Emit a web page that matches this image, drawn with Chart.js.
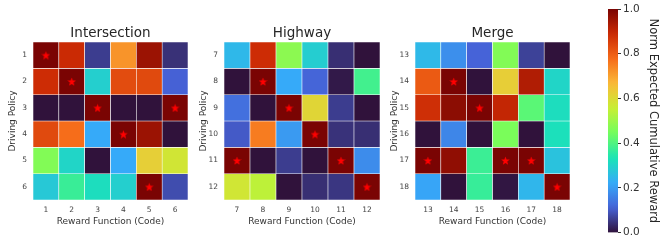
<!DOCTYPE html>
<html>
<head>
<meta charset="utf-8">
<script src="https://cdn.jsdelivr.net/npm/chart.js@4.4.1/dist/chart.umd.min.js"></script>
<style>
    html, body { margin: 0; padding: 0; background: #fff; }
    #wrap { position: relative; width: 660px; height: 241px; overflow: hidden; }
    .box { position: absolute; top: 0; }
</style>
</head>
<body>
<div id="wrap">
    <div class="box" style="left:0px"><canvas id="intersection" width="193" height="241"></canvas></div>
    <div class="box" style="left:191px"><canvas id="highway" width="194" height="241"></canvas></div>
    <div class="box" style="left:382px"><canvas id="merge" width="193" height="241"></canvas></div>
    <div class="box" style="left:598px"><canvas id="colorbar" width="62" height="241"></canvas></div>
</div>
<script>
// reward function codes (columns) and driving policies (rows)
const intersectionRewards = ['1', '2', '3', '4', '5', '6'];
const intersectionPolicies = ['1', '2', '3', '4', '5', '6'];
const intersectionValues = [
    [1.0, 0.89, 0.06, 0.72, 0.955, 0.043],
    [0.885, 1.0, 0.293, 0.83, 0.835, 0.11],
    [0.0, 0.0, 1.0, 0.0, 0.0, 1.0],
    [0.835, 0.775, 0.222, 1.0, 0.955, 0.0],
    [0.465, 0.305, 0.0, 0.222, 0.623, 0.576],
    [0.28, 0.372, 0.32, 0.293, 1.0, 0.082]
];

const highwayRewards = ['7', '8', '9', '10', '11', '12'];
const highwayPolicies = ['7', '8', '9', '10', '11', '12'];
const highwayValues = [
    [0.249, 0.885, 0.478, 0.29, 0.04, 0.0],
    [0.0, 1.0, 0.222, 0.115, 0.01, 0.384],
    [0.133, 0.0, 1.0, 0.61, 0.06, 0.0],
    [0.1, 0.754, 0.197, 1.0, 0.045, 0.04],
    [1.0, 0.0, 0.06, 0.0, 1.0, 0.176],
    [0.575, 0.543, 0.0, 0.04, 0.05, 1.0]
];

const mergeRewards = ['13', '14', '15', '16', '17', '18'];
const mergePolicies = ['13', '14', '15', '16', '17', '18'];
const mergeValues = [
    [0.25, 0.18, 0.113, 0.466, 0.066, 0.0],
    [0.807, 1.0, 0.0, 0.625, 0.926, 0.305],
    [0.88, 0.975, 1.0, 0.9, 0.414, 0.32],
    [0.0, 0.167, 0.0, 0.455, 0.0, 0.325],
    [1.0, 0.97, 0.375, 1.0, 1.0, 0.268],
    [0.215, 0.0, 0.37, 0.005, 0.245, 1.0]
];

const colorbarTicks = [0.0, 0.2, 0.4, 0.6, 0.8, 1.0];

const FONT = 'DejaVu Sans';
Chart.defaults.font.family = FONT;

// turbo colormap, sampled stops
const turboStops = [
    [48, 18, 59], [70, 98, 215], [54, 170, 249], [26, 228, 182], [114, 254, 94],
    [199, 239, 52], [250, 186, 57], [246, 107, 25], [203, 42, 4], [122, 4, 3]
];
function turbo(v) {
    const t = Math.min(1, Math.max(0, v)) * (turboStops.length - 1);
    const i = Math.min(turboStops.length - 2, Math.floor(t));
    const f = t - i;
    const a = turboStops[i], b = turboStops[i + 1];
    const c = a.map((x, k) => Math.round(x + (b[k] - x) * f));
    return 'rgb(' + c.join(',') + ')';
}

function makeStar(size, color) {
    const c = document.createElement('canvas');
    c.width = c.height = size;
    const g = c.getContext('2d');
    const cx = size / 2, R = size / 2, r = R * 0.42;
    g.beginPath();
    for (let i = 0; i < 10; i++) {
        const a = -Math.PI / 2 + i * Math.PI / 5;
        const rad = i % 2 ? r : R;
        g.lineTo(cx + rad * Math.cos(a), cx + 0.5 + rad * Math.sin(a));
    }
    g.closePath();
    g.fillStyle = color;
    g.fill();
    return c;
}
const starImg = makeStar(9, '#ff0000');

function heatmap(id, title, rewards, policies, values) {
    const datasets = values.map((row, r) => ({
        type: 'bar',
        data: row.map(() => [r, r + 1]),
        backgroundColor: row.map(v => turbo(v)),
        borderColor: '#ffffff',
        borderWidth: 0.6,
        borderSkipped: false,
        grouped: false,
        barPercentage: 1,
        categoryPercentage: 1
    }));
    // best cells get a star
    const stars = [];
    values.forEach((row, r) => row.forEach((v, c) => {
        if (v === 1) stars.push({ x: rewards[c], y: r + 0.5 });
    }));
    datasets.push({
        type: 'line',
        data: stars,
        showLine: false,
        pointStyle: starImg,
        order: -1
    });

    new Chart(document.getElementById(id), {
        type: 'bar',
        data: { labels: rewards, datasets: datasets },
        options: {
            responsive: false,
            animation: false,
            events: [],
            layout: { padding: { left: 0, right: 2, top: 0, bottom: 0 } },
            plugins: {
                legend: { display: false },
                tooltip: { enabled: false },
                title: {
                    display: true,
                    text: title,
                    fullSize: false,
                    color: '#262626',
                    font: { family: FONT, size: 13.5, weight: 'normal' },
                    padding: { top: 25, bottom: 0.8 }
                }
            },
            scales: {
                x: {
                    type: 'category',
                    offset: true,
                    grid: { display: false, drawTicks: false },
                    border: { display: false },
                    ticks: { padding: 6, color: '#444', maxRotation: 0, font: { family: FONT, size: 7.5 } },
                    title: {
                        display: true,
                        text: 'Reward Function (Code)',
                        color: '#333',
                        font: { family: FONT, size: 9 },
                        padding: { top: 0, bottom: 14 }
                    },
                    afterFit: s => { s.height = 41; }
                },
                y: {
                    type: 'linear',
                    min: 0,
                    max: 6,
                    reverse: true,
                    afterBuildTicks: s => { s.ticks = policies.map((p, i) => ({ value: i + 0.5 })); },
                    grid: { display: false, drawTicks: false },
                    border: { display: false },
                    ticks: {
                        padding: 6,
                        color: '#444',
                        font: { family: FONT, size: 7.5 },
                        callback: (v, i) => policies[i]
                    },
                    title: {
                        display: true,
                        text: 'Driving Policy',
                        color: '#333',
                        font: { family: FONT, size: 9 },
                        padding: { top: 7.5, bottom: 0 }
                    },
                    afterFit: s => { s.width = 33; }
                }
            }
        }
    });
}

heatmap('intersection', 'Intersection', intersectionRewards, intersectionPolicies, intersectionValues);
heatmap('highway', 'Highway', highwayRewards, highwayPolicies, highwayValues);
heatmap('merge', 'Merge', mergeRewards, mergePolicies, mergeValues);

new Chart(document.getElementById('colorbar'), {
    type: 'bar',
    data: {
        labels: [''],
        datasets: [{
            data: [[0, 1]],
            backgroundColor: ctx => {
                const area = ctx.chart.chartArea;
                if (!area) return turbo(0.5);
                const g = ctx.chart.ctx.createLinearGradient(0, area.bottom, 0, area.top);
                for (let i = 0; i <= 40; i++) g.addColorStop(i / 40, turbo(i / 40));
                return g;
            },
            borderWidth: 0,
            barPercentage: 1,
            categoryPercentage: 1
        }]
    },
    options: {
        responsive: false,
        animation: false,
        events: [],
        layout: { padding: { left: 10, top: 9, bottom: 8, right: 0 } },
        plugins: { legend: { display: false }, tooltip: { enabled: false } },
        scales: {
            x: { display: false },
            y: {
                position: 'right',
                min: 0,
                max: 1,
                afterBuildTicks: s => { s.ticks = colorbarTicks.map(v => ({ value: v })); },
                grid: { drawOnChartArea: false, drawTicks: true, tickLength: 3, color: '#333' },
                border: { display: false },
                ticks: { padding: 2, color: '#333', font: { family: FONT, size: 10.5 }, callback: v => v.toFixed(1) },
                title: {
                    display: true,
                    text: 'Norm Expected Cumulative Reward',
                    color: '#262626',
                    font: { family: FONT, size: 11.5 },
                    padding: { top: 0, bottom: 3 }
                },
                afterFit: s => { s.width = 42; }
            }
        }
    }
});
</script>
</body>
</html>
